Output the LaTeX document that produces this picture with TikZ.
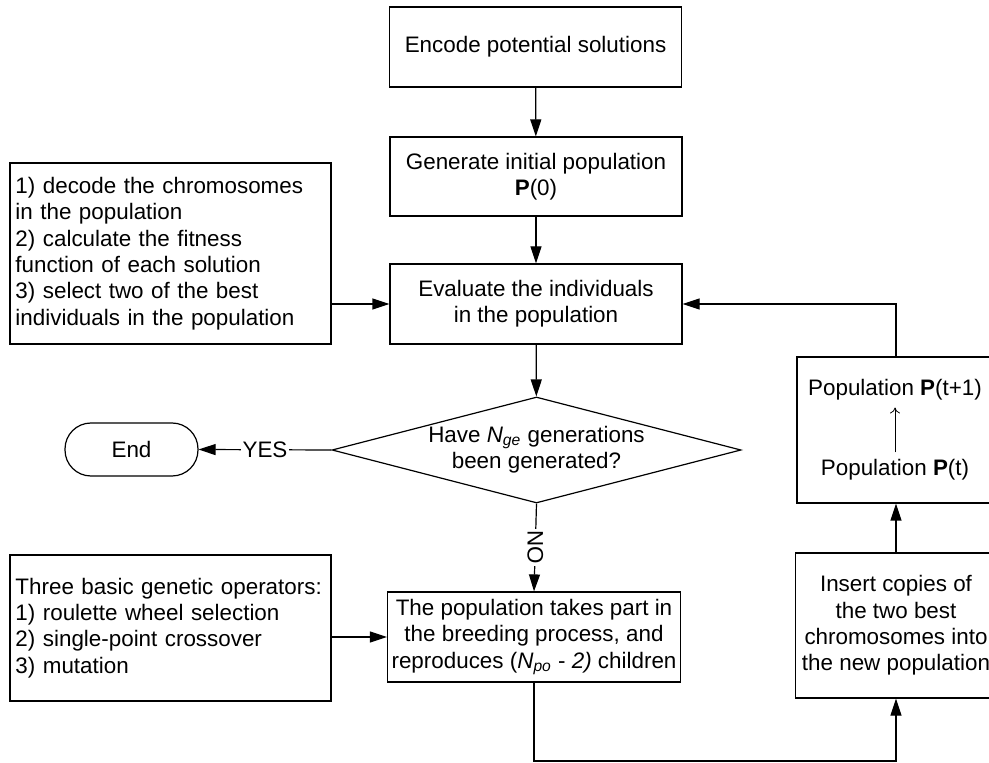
\documentclass[tikz,border=0pt]{standalone}
\usepackage{fontspec}
\setmainfont{Liberation Sans}
\usepackage{tikz}
\usetikzlibrary{shapes,shapes.geometric,arrows.meta,positioning,calc}
\usepackage{xcolor}

\begin{document}
\begin{tikzpicture}[
    x=0.5pt, y=-0.5pt,
    every node/.style={font=\fontsize{11.2}{13.2}\selectfont},
    box/.style={rectangle, draw, line width=0.6pt, minimum width=146pt, minimum height=40pt, align=center, inner sep=2pt},
    note/.style={rectangle, draw, line width=0.6pt, align=left, text width=155pt, inner xsep=2.75pt},
    decide/.style={diamond, draw, line width=0.6pt, aspect=3.9, inner sep=0pt, minimum width=204.5pt, minimum height=53pt, align=center},
    term/.style={rectangle, draw, line width=0.6pt, rounded corners=13pt, minimum width=66.5pt, minimum height=26.5pt},
    side/.style={rectangle, draw, line width=0.6pt, minimum width=99pt, minimum height=73pt, align=center},
    arr/.style={-{Triangle[length=8.5pt,width=5.5pt]}, line width=0.6pt},
    lbl/.style={fill=white, inner sep=1pt}
]
    \useasboundingbox (0,0) rectangle (989,763);

    % Main column
    \node[box] (enc) at (535.5, 47) {Encode potential solutions};
    \node[box, minimum height=39.5pt] (gen) at (536, 176.5) {Generate initial population\\\textbf{P}(0)};
    \node[box] (eval) at (536, 304) {Evaluate the individuals\\in the population};
    \node[decide] (test) at (536.5, 450) {Have \textit{N\textsubscript{ge}} generations\\been generated?};
    \node[box, minimum height=45pt] (breed) at (534, 637) {The population takes part in\\the breeding process, and\\reproduces (\textit{N\textsubscript{po}} - \textit{2)} children};

    % Terminal
    \node[term] (stop) at (131.5, 449.5) {End};

    % Notes on the left
    \node[note, minimum height=90.5pt] (steps) at (170.5, 253.5) {1) decode the chromosomes\\in the population\\2) calculate the fitness\\function of each solution\\3) select two of the best\\individuals in the population};
    \node[note, minimum height=73pt] (ops) at (170.5, 628) {Three basic genetic operators:\\1) roulette wheel selection\\2) single-point crossover\\3) mutation\\[4pt]};

    % Right column
    \node[side] (pop) at (896, 430) {};
    \node (popnew) at (895, 390) {Population \textbf{P}(t+1)};
    \node (popold) at (895, 470) {Population \textbf{P}(t)};
    \node[side, minimum height=72.5pt] (keep) at (896, 625.5) {Insert copies of\\the two best\\chromosomes into\\the new population};

    % Links
    \draw[arr] (enc) -- (gen);
    \draw[arr] (gen) -- (eval);
    \draw[arr] (steps.east |- eval.west) -- (eval.west);
    \draw[arr] (eval) -- (test);
    \draw[arr] (test.west) -- (stop.east) node[midway, lbl] {YES};
    \draw[arr] (test.south) -- (breed.north) node[midway, lbl, rotate=-90] {NO};
    \draw[arr] (ops.east |- breed.west) -- (breed.west);
    \coordinate (lowturn) at (534, 761);
    \draw[arr] (breed.south) -- (lowturn) -| (keep.south);
    \draw[arr] (keep) -- (pop);
    \draw[line width=0.4pt, -{To[length=3pt,width=5pt]}] (popold.north) -- (popnew.south);
    \draw[arr] (pop.north) |- (eval.east);
\end{tikzpicture}
\end{document}
